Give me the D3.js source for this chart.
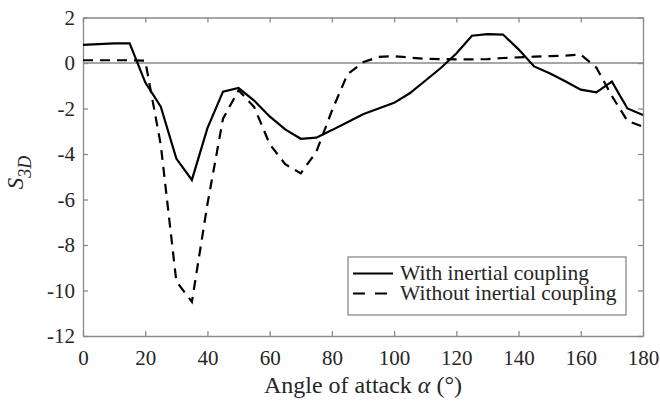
<!DOCTYPE html>
<html>
  <head>
    <meta charset="utf-8">
    <style>
      body { margin: 0; background: #fff; }
      .axis line, .axis path {
        stroke: #8a8a8a;
      }
    </style>
  </head>
<body>
<script src="https://d3js.org/d3.v7.min.js"></script>
<div id="my_dataviz"></div>
<script>

    // data
    var alphaWith = [0, 5, 10, 15, 20, 25, 30, 35, 40, 45, 50, 55, 60, 65, 70, 75, 80, 85, 90,
                     95, 100, 105, 110, 115, 120, 125, 130, 135, 140, 145, 150, 155, 160, 165, 170, 175, 180];
    var sWith = [0.8, 0.83, 0.86, 0.86, -0.85, -1.92, -4.2, -5.14, -2.86, -1.26, -1.1, -1.65, -2.35, -2.92,
                 -3.33, -3.28, -2.95, -2.6, -2.25, -2.0, -1.75, -1.33, -0.78, -0.22, 0.42, 1.2, 1.27, 1.25,
                 0.6, -0.15, -0.45, -0.8, -1.17, -1.29, -0.82, -2.0, -2.29];

    var alphaWithout = [0, 5, 10, 15, 20, 25, 30, 35, 40, 45, 50, 55, 60, 65, 70, 75, 80, 85, 90,
                        95, 100, 105, 110, 115, 120, 125, 130, 135, 140, 145, 150, 155, 160, 165, 170, 175, 180];
    var sWithout = [0.12, 0.12, 0.12, 0.12, 0.1, -3.6, -9.6, -10.5, -6.2, -2.45, -1.2, -1.93, -3.56, -4.45,
                    -4.85, -3.9, -2.1, -0.5, 0.03, 0.27, 0.3, 0.24, 0.18, 0.17, 0.16, 0.16, 0.17, 0.22,
                    0.25, 0.28, 0.3, 0.32, 0.37, -0.2, -1.45, -2.55, -2.8];

    var xTicks = [0, 20, 40, 60, 80, 100, 120, 140, 160, 180];
    var yTicks = [2, 0, -2, -4, -6, -8, -10, -12];
    var seriesNames = ["With inertial coupling", "Without inertial coupling"];

    var serif = "Liberation Serif";
    var textColor = "#262626";

    var margin = {top: 17.5, right: 17, bottom: 65, left: 83},
        width = 660 - margin.left - margin.right,
        height = 401 - margin.top - margin.bottom;

    var svg = d3.select("#my_dataviz")
      .append("svg")
        .attr("width", 660)
        .attr("height", 401)
      .append("g")
        .attr("transform", "translate(" + margin.left + "," + margin.top + ")");

    var x = d3.scaleLinear().domain([0, 180]).range([0, width]);
    var y = d3.scaleLinear().domain([-12, 2]).range([height, 0]);

    // zero line
    svg.append("line")
      .attr("x1", 0).attr("x2", width)
      .attr("y1", y(0)).attr("y2", y(0))
      .style("stroke", "#8a8a8a")
      .style("stroke-width", 1.3);

    // box axes with inward ticks
    svg.append("g")
      .attr("class", "axis")
      .attr("transform", "translate(0," + height + ")")
      .call(d3.axisBottom(x).tickValues(xTicks).tickSizeInner(-5).tickSizeOuter(0).tickPadding(14));
    svg.append("g")
      .attr("class", "axis")
      .call(d3.axisTop(x).tickValues(xTicks).tickSizeInner(-5).tickSizeOuter(0).tickFormat(""));
    svg.append("g")
      .attr("class", "axis")
      .call(d3.axisLeft(y).tickValues(yTicks).tickSizeInner(-5).tickSizeOuter(0).tickPadding(8));
    svg.append("g")
      .attr("class", "axis")
      .attr("transform", "translate(" + width + ",0)")
      .call(d3.axisRight(y).tickValues(yTicks).tickSizeInner(-5).tickSizeOuter(0).tickFormat(""));
    svg.selectAll(".axis path, .axis line").style("stroke-width", 1.3);
    svg.selectAll(".axis text")
      .text(function() { return this.textContent.replace("\u2212", "-"); })
      .style("font-family", serif)
      .style("font-size", "21px")
      .style("fill", textColor);

    // lines
    var line = d3.line()
      .x(function(d) { return x(d[0]); })
      .y(function(d) { return y(d[1]); });

    svg.append("path")
      .datum(d3.zip(alphaWith, sWith))
      .attr("fill", "none")
      .attr("stroke", "#000")
      .attr("stroke-width", 2.2)
      .attr("d", line);

    svg.append("path")
      .datum(d3.zip(alphaWithout, sWithout))
      .attr("fill", "none")
      .attr("stroke", "#000")
      .attr("stroke-width", 2.2)
      .attr("stroke-dasharray", "10,7")
      .attr("d", line);

    // axis labels
    var xl = svg.append("text")
      .attr("x", width / 2)
      .attr("y", height + 57)
      .style("text-anchor", "middle")
      .style("font-family", serif)
      .style("font-size", "24px")
      .style("fill", textColor);
    xl.append("tspan").text("Angle of attack ");
    xl.append("tspan").style("font-style", "italic").text("\u03b1");
    xl.append("tspan").text(" (\u00b0)");

    var yl = svg.append("text")
      .attr("transform", "translate(" + (-60) + "," + 155 + ") rotate(-90)")
      .style("text-anchor", "middle")
      .style("font-family", serif)
      .style("font-size", "23px")
      .style("font-style", "italic")
      .style("fill", textColor);
    yl.append("tspan").text("S");
    yl.append("tspan").attr("dy", 8).style("font-size", "18px").text("3D");

    // legend
    var legend = svg.append("g")
      .attr("transform", "translate(" + (348 - margin.left) + "," + (257 - margin.top) + ")");
    legend.append("rect")
      .attr("width", 278).attr("height", 58)
      .attr("fill", "#fff")
      .attr("stroke", "#8a8a8a")
      .attr("stroke-width", 1.3);
    seriesNames.forEach(function(name, i) {
      var yy = 16.5 + i * 20;
      legend.append("line")
        .attr("x1", 5).attr("x2", 45)
        .attr("y1", yy).attr("y2", yy)
        .attr("stroke", "#000")
        .attr("stroke-width", 2.2)
        .attr("stroke-dasharray", i === 1 ? "12,10" : null);
      legend.append("text")
        .attr("x", 52)
        .attr("y", yy + 6.5)
        .style("font-family", serif)
        .style("font-size", "21.5px")
        .style("fill", textColor)
        .text(name);
    });

</script>
</body>
</html>
